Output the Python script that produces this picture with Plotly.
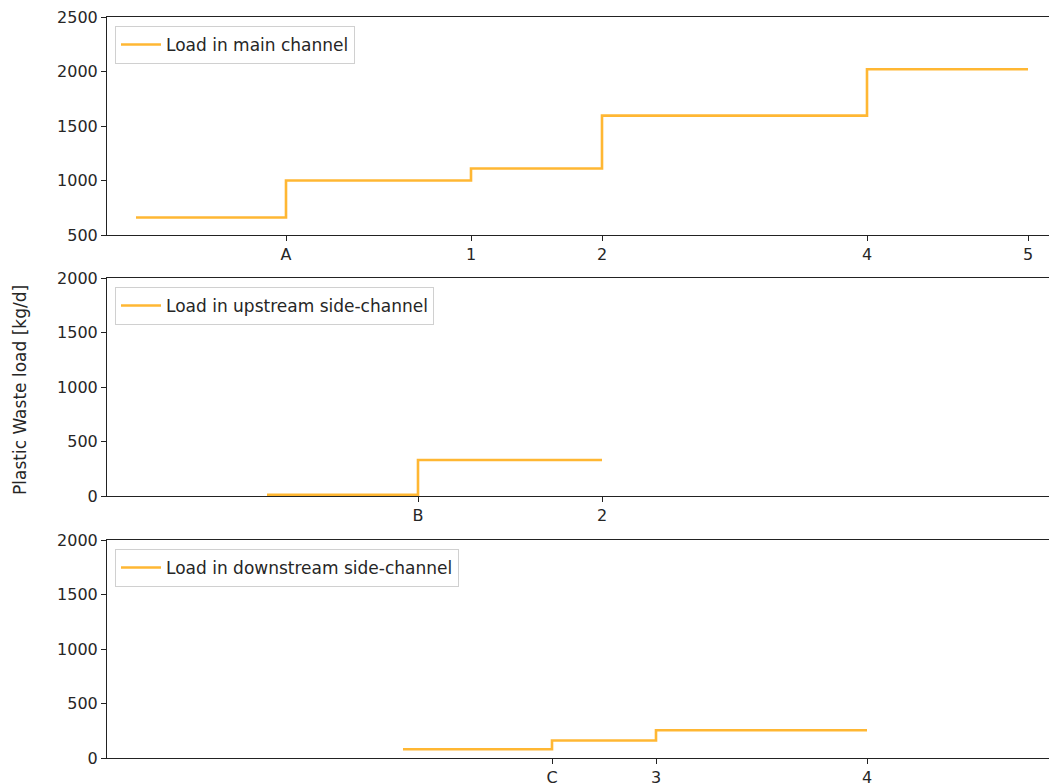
import plotly.graph_objects as go
from plotly.subplots import make_subplots

# Positions along the river (arbitrary distance units) and loads [kg/d]
x_main = [2.9, 17.9, 36.4, 49.5, 76.0, 92.1]
load_main = [660, 1000, 1110, 1595, 2020, 2020]

x_up = [16.0, 31.1, 49.5]
load_up = [10, 330, 330]

x_down = [29.6, 44.5, 54.9, 76.0]
load_down = [80, 160, 255, 255]

ticks_main = [17.9, 36.4, 49.5, 76.0, 92.1]
labels_main = ["A", "1", "2", "4", "5"]
ticks_up = [31.1, 49.5]
labels_up = ["B", "2"]
ticks_down = [44.5, 54.9, 76.0]
labels_down = ["C", "3", "4"]

names = ["Load in main channel", "Load in upstream side-channel", "Load in downstream side-channel"]

W, H = 1049, 784
ml, mr, mt, mb = 107, 0, 17, 26
ph = H - mt - mb
pw = W - ml - mr

def fy(px):
    return (H - mb - px) / ph

fig = make_subplots(rows=3, cols=1)

color = "rgba(255,165,0,0.8)"
series = [(x_main, load_main), (x_up, load_up), (x_down, load_down)]
legends = ["legend", "legend2", "legend3"]
for i, ((xs, ys), nm) in enumerate(zip(series, names)):
    fig.add_trace(go.Scatter(x=xs, y=ys, mode="lines", line=dict(color=color, width=2.6, shape="hv"),
                             name=nm, legend=legends[i]), row=i + 1, col=1)

domains = [(fy(235), fy(17)), (fy(496), fy(278)), (fy(758), fy(540))]
yranges = [[500, 2500], [0, 2000], [0, 2000]]
xticks = [(ticks_main, labels_main), (ticks_up, labels_up), (ticks_down, labels_down)]
font = dict(family="DejaVu Sans", size=16, color="#262626")

for i in range(3):
    xa = "xaxis" if i == 0 else f"xaxis{i+1}"
    ya = "yaxis" if i == 0 else f"yaxis{i+1}"
    fig.layout[xa].update(domain=[0, 1], range=[0, pw / 10], tickvals=xticks[i][0], ticktext=xticks[i][1],
                          showline=True, linecolor="#222", linewidth=1, mirror=True, ticks="outside",
                          ticklen=5, tickcolor="#222", showgrid=False, zeroline=False, tickfont=font,
                          automargin=False)
    fig.layout[ya].update(domain=list(domains[i]), range=yranges[i], dtick=500, showline=True,
                          linecolor="#222", linewidth=1, ticks="outside", ticklen=5, tickcolor="#222",
                          showgrid=False, zeroline=False, tickfont=font, automargin=False)

legend_tops = [26, 287, 549]
for i, lg in enumerate(legends):
    fig.layout[lg] = dict(x=(115 - ml) / pw, y=fy(legend_tops[i]), xanchor="left", yanchor="top",
                          bgcolor="white", bordercolor="#d0d0d0", borderwidth=1, itemwidth=40,
                          font=dict(family="DejaVu Sans", size=17, color="#262626"))

fig.add_annotation(text="Plastic Waste load [kg/d]", xref="paper", yref="paper",
                   x=(20 - ml) / pw, y=fy(390), xanchor="center", yanchor="middle",
                   textangle=-90, showarrow=False,
                   font=dict(family="DejaVu Sans", size=17, color="#262626"))

fig.update_layout(width=W, height=H, margin=dict(l=ml, r=mr, t=mt, b=mb, autoexpand=False),
                  plot_bgcolor="white", paper_bgcolor="white", showlegend=True)

fig.write_html("out.html", config={"displayModeBar": False},
               post_script="document.body.style.margin='0';document.body.style.overflow='hidden';")
